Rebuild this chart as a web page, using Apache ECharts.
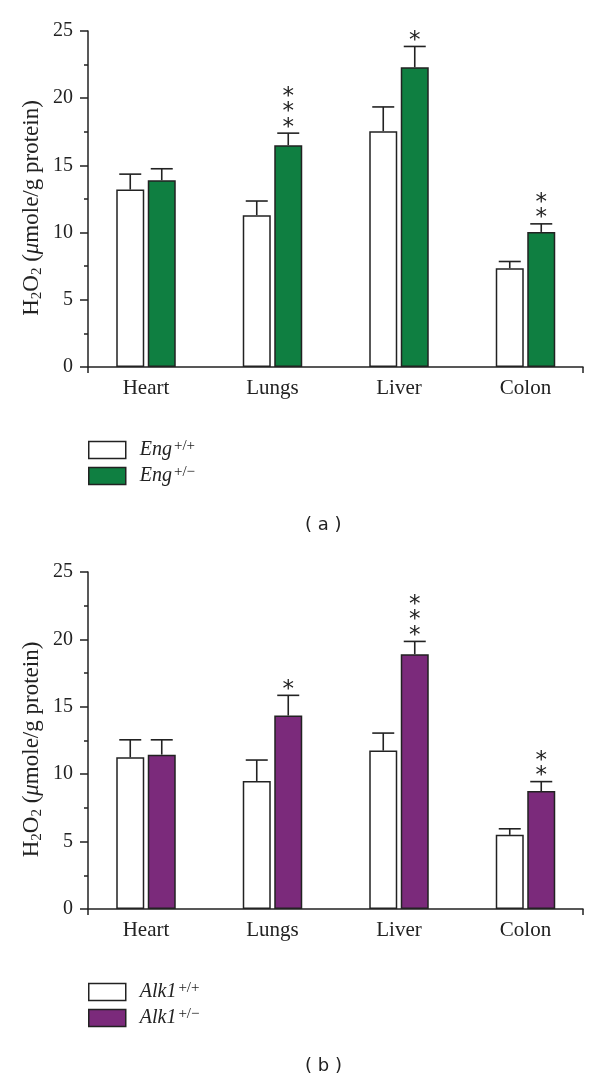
<!DOCTYPE html>
<html>
<head>
<meta charset="utf-8">
<script src="https://cdn.jsdelivr.net/npm/echarts@6/dist/echarts.min.js"></script>
<style>html,body{margin:0;padding:0;background:#fff}#c{width:600px;height:1082px}</style>
</head>
<body>
<div id="c"></div>
<script>
// ---- data ----
const categories = ['Heart', 'Lungs', 'Liver', 'Colon'];
const yTicks = [0, 5, 10, 15, 20, 25];

// panel (a): Eng
const engWT = [13.2, 11.3, 17.55, 7.35];
const engWTsd = [1.15, 1.05, 1.8, 0.5];
const engHet = [13.9, 16.5, 22.3, 10.05];
const engHetSd = [0.85, 0.9, 1.55, 0.6];
const engStars = ['', '***', '*', '**'];

// panel (b): Alk1
const alkWT = [11.25, 9.5, 11.75, 5.5];
const alkWTsd = [1.3, 1.55, 1.3, 0.45];
const alkHet = [11.45, 14.35, 18.9, 8.75];
const alkHetSd = [1.1, 1.5, 0.95, 0.7];
const alkStars = ['', '*', '***', '**'];

const seriesNames = {
  a: ['Eng+/+', 'Eng+/−'],
  b: ['Alk1+/+', 'Alk1+/−']
};

// ---- style ----
const GREEN = '#0f7f41';
const PURPLE = '#7b2a7b';
const INK = '#222';
const SERIF = '"Liberation Serif", "DejaVu Serif", serif';
const BAR_W = 28;
const BAR_GAP = '12.5%';
const OFF = 15.75;

const chart = echarts.init(document.getElementById('c'));

function errorSeries(xi, yi, means, sds, stars, offset) {
  const data = means.map((m, i) => [i, m, sds[i], (stars[i] || '').length]);
  return {
    type: 'custom', xAxisIndex: xi, yAxisIndex: yi, z: 5, clip: false,
    silent: true,
    data: data,
    renderItem: function (params, api) {
      const c = api.value(0), m = api.value(1), s = api.value(2), n = api.value(3);
      const p0 = api.coord([c, m]);
      const p1 = api.coord([c, m + s]);
      const cx = p0[0] + offset;
      const children = [
        { type: 'line', shape: { x1: cx, y1: p0[1], x2: cx, y2: p1[1] }, style: { stroke: INK, lineWidth: 1.6 } },
        { type: 'line', shape: { x1: cx - 11, y1: p1[1], x2: cx + 11, y2: p1[1] }, style: { stroke: INK, lineWidth: 1.6 } }
      ];
      for (let k = 0; k < n; k++) {
        children.push({
          type: 'text',
          style: {
            x: cx, y: p1[1] - 11 - 15.5 * k + 5.5, text: '*',
            font: '23px "DejaVu Sans", sans-serif', fill: INK,
            textAlign: 'center', textVerticalAlign: 'middle'
          }
        });
      }
      return { type: 'group', children: children };
    }
  };
}

function barSeries(name, xi, yi, data, color) {
  return {
    name: name, type: 'bar', xAxisIndex: xi, yAxisIndex: yi, data: data,
    barWidth: BAR_W, barGap: BAR_GAP,
    itemStyle: { color: color, borderColor: INK, borderWidth: 1.5 },
    emphasis: { disabled: true }, z: 3
  };
}

const nameRich = {
  n: { fontFamily: SERIF, fontSize: 23, color: INK, lineHeight: 26 },
  s: { fontFamily: SERIF, fontSize: 15, color: INK, lineHeight: 15, verticalAlign: 'bottom' },
  i: { fontFamily: SERIF, fontSize: 23, color: INK, lineHeight: 26, fontStyle: 'italic' }
};
const yName = '{n|H}{s|2}{n|O}{s|2}{n| (}{i|μ}{n|mole/g protein)}';

function axisGrids(top, height) {
  return [
    { left: 82.75, right: 11.25, top: top, height: height },
    { left: 88, right: 17, top: top, height: height }
  ];
}

function axesFor(gBars, gAxis) {
  const xAxes = [
    {
      gridIndex: gBars, type: 'category', data: categories,
      axisLine: { show: false }, axisTick: { show: false },
      axisLabel: { fontFamily: SERIF, fontSize: 21, color: INK, margin: 11 }
    },
    {
      gridIndex: gAxis, type: 'value', min: 0, max: 1, interval: 1,
      axisLine: { show: true, lineStyle: { color: INK, width: 1.5 } },
      axisTick: { show: true, length: 6, lineStyle: { color: INK, width: 1.5 } },
      axisLabel: { show: false }, splitLine: { show: false }
    }
  ];
  const yAxes = [
    { gridIndex: gBars, type: 'value', min: 0, max: 25, interval: 5, show: false },
    {
      gridIndex: gAxis, type: 'value', min: 0, max: 25, interval: 5,
      axisLine: { show: true, lineStyle: { color: INK, width: 1.5 } },
      axisTick: { show: true, length: 8, lineStyle: { color: INK, width: 1.5 } },
      minorTick: { show: true, splitNumber: 2, length: 4, lineStyle: { color: INK, width: 1.5 } },
      splitLine: { show: false }, minorSplitLine: { show: false },
      axisLabel: { fontFamily: SERIF, fontSize: 20, color: INK, margin: 15,
        formatter: v => (yTicks.indexOf(v) >= 0 ? String(v) : '') },
      name: yName, nameLocation: 'middle', nameGap: 43, nameRotate: 90,
      nameMoveOverlap: false,
      nameTextStyle: { rich: nameRich, padding: [0, 18, 0, 0] }
    }
  ];
  return { xAxes, yAxes };
}

const A = axesFor(0, 1);
const B = axesFor(2, 3);

function legendFor(names, top) {
  return {
    data: names.map(n => ({ name: n, icon: 'rect' })),
    orient: 'vertical', left: 88, top: top, padding: 0,
    itemWidth: 37, itemHeight: 17, itemGap: 5,
    selectedMode: false,
    formatter: function (name) {
      const m = name.match(/^(.*?)(\+\/.)$/);
      return '{i|' + m[1] + '}{s|' + m[2] + '}';
    },
    textStyle: {
      rich: {
        i: { fontFamily: SERIF, fontStyle: 'italic', fontSize: 20, color: INK, lineHeight: 22, padding: [0, 2, 0, 9] },
        s: { fontFamily: SERIF, fontSize: 15, color: INK, lineHeight: 10, verticalAlign: 'top' }
      }
    },
    itemStyle: { borderColor: INK, borderWidth: 1.5 }
  };
}

const option = {
  animation: false,
  backgroundColor: '#fff',
  grid: [...axisGrids(31, 336), ...axisGrids(572, 337)],
  xAxis: [...A.xAxes, ...B.xAxes],
  yAxis: [...A.yAxes, ...B.yAxes],
  legend: [legendFor(seriesNames.a, 439), legendFor(seriesNames.b, 981)],
  series: [
    barSeries(seriesNames.a[0], 0, 0, engWT, '#ffffff'),
    barSeries(seriesNames.a[1], 0, 0, engHet, GREEN),
    errorSeries(0, 0, engWT, engWTsd, [], -OFF),
    errorSeries(0, 0, engHet, engHetSd, engStars, OFF),
    barSeries(seriesNames.b[0], 2, 2, alkWT, '#ffffff'),
    barSeries(seriesNames.b[1], 2, 2, alkHet, PURPLE),
    errorSeries(2, 2, alkWT, alkWTsd, [], -OFF),
    errorSeries(2, 2, alkHet, alkHetSd, alkStars, OFF)
  ],
  graphic: [
    { type: 'text', left: 305, top: 516, style: { text: '( a )', font: '18px "DejaVu Sans", sans-serif', fill: INK } },
    { type: 'text', left: 305, top: 1057, style: { text: '( b )', font: '18px "DejaVu Sans", sans-serif', fill: INK } }
  ]
};
chart.setOption(option);
</script>
</body>
</html>
